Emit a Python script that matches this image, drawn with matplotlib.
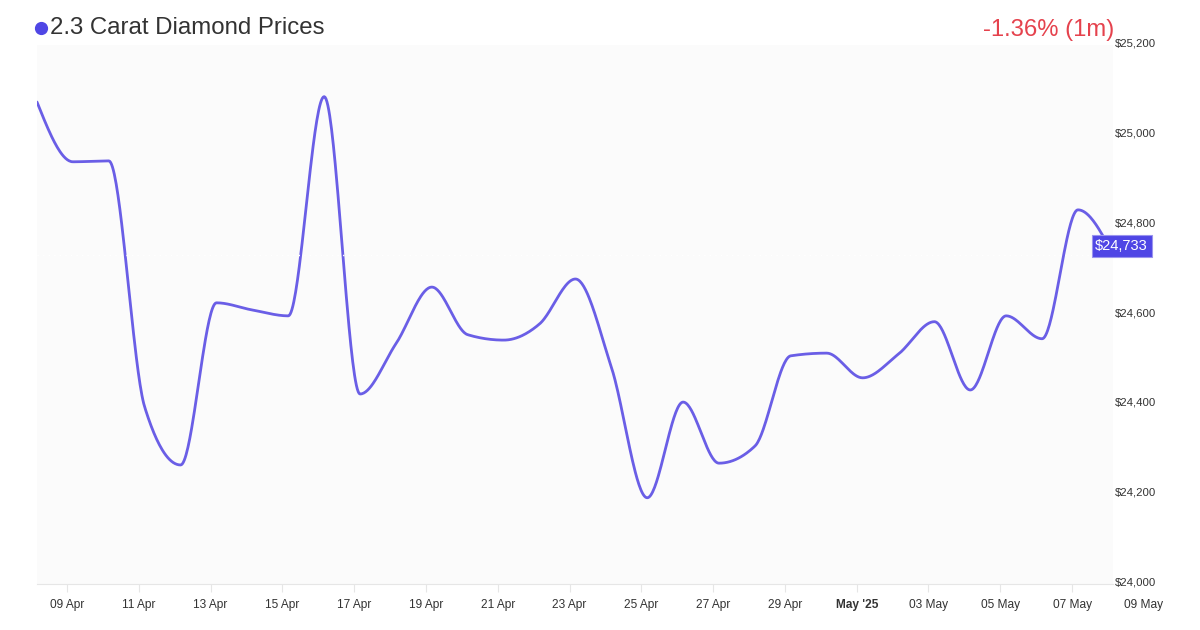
import numpy as np
import matplotlib
matplotlib.use("Agg")
import matplotlib.pyplot as plt
from matplotlib.lines import Line2D
from matplotlib.transforms import blended_transform_factory

plt.rcParams["font.family"] = ["Liberation Sans", "DejaVu Sans"]

# days relative to 09 Apr (daily samples, last one is the live quote)
days = [-0.836 + i for i in range(30)] + [29.14]
prices = [25073, 24940, 24942, 24394, 24265, 24626, 24610, 24597, 25085, 24423,
          24535, 24661, 24555, 24543, 24579, 24679, 24483, 24192, 24405, 24269,
          24307, 24508, 24514, 24459, 24512, 24584, 24432, 24597, 24546, 24833,
          24733]
tick_days = list(range(0, 30, 2))
tick_labels = ["09 Apr", "11 Apr", "13 Apr", "15 Apr", "17 Apr", "19 Apr", "21 Apr",
               "23 Apr", "25 Apr", "27 Apr", "29 Apr", "May '25", "03 May",
               "05 May", "07 May"]
y_ticks = [24000, 24200, 24400, 24600, 24800, 25000, 25200]
last_price = 24733
change = "-1.36% (1m)"

LINE = "#6a5ee6"
ACCENT = "#4f46e5"
TEXT = "#333333"


def monotone(x, y, n=40):
    # monotone cubic (like d3 curveMonotoneX) just for drawing the line
    x = np.asarray(x, float)
    y = np.asarray(y, float)
    h = np.diff(x)
    s = np.diff(y) / h
    t = np.zeros_like(y)
    for i in range(1, len(y) - 1):
        p = (s[i - 1] * h[i] + s[i] * h[i - 1]) / (h[i - 1] + h[i])
        t[i] = (np.sign(s[i - 1]) + np.sign(s[i])) * min(abs(s[i - 1]), abs(s[i]), 0.5 * abs(p))
    t[0] = (3 * s[0] - t[1]) / 2
    t[-1] = (3 * s[-1] - t[-2]) / 2
    xs, ys = [], []
    for i in range(len(h)):
        u = np.linspace(0, 1, n)
        h00 = 2 * u**3 - 3 * u**2 + 1
        h10 = u**3 - 2 * u**2 + u
        h01 = -2 * u**3 + 3 * u**2
        h11 = u**3 - u**2
        xs.append(x[i] + u * h[i])
        ys.append(h00 * y[i] + h10 * h[i] * t[i] + h01 * y[i + 1] + h11 * h[i] * t[i + 1])
    return np.concatenate(xs), np.concatenate(ys)


fig = plt.figure(figsize=(12, 6.3), dpi=100)
ax = fig.add_axes([37 / 1200, 46 / 630, 1076 / 1200, 539 / 630])
ax.set_facecolor("#fbfbfb")

sx, sy = monotone(days, prices)
ax.plot(sx, sy, color=LINE, lw=2, solid_capstyle="round", zorder=3)
ax.axhline(last_price, color="white", lw=1, ls=(0, (1, 3)), zorder=4)

ax.set_xlim(days[0], days[-1])
ax.set_ylim(24000, 25200)

for sp in ["top", "left", "right"]:
    ax.spines[sp].set_visible(False)
ax.spines["bottom"].set_color("#e6e6e6")

ax.set_xticks(tick_days)
ax.set_xticklabels(tick_labels, fontsize=8.6, color=TEXT)
for lab in ax.get_xticklabels():
    if lab.get_text() == "May '25":
        lab.set_fontweight("bold")
ax.tick_params(axis="x", length=6, color="#e6e6e6", pad=5)
# the last date label sits past the plot edge
tr = blended_transform_factory(ax.transData, ax.transAxes)
ax.text(30, -0.0284, "09 May", transform=tr, fontsize=8.6, color=TEXT,
        ha="center", va="top", clip_on=False)

ax.set_yticks([])
ytr = blended_transform_factory(ax.transAxes, ax.transData)
for v in y_ticks:
    ax.text(1.002, v + 3, f"${v:,}", transform=ytr, fontsize=8.2, color=TEXT,
            ha="left", va="center", clip_on=False)

ax.text(0.9835, 24756, f"${last_price:,}", transform=ytr, fontsize=10.5,
        color="white", ha="left", va="center_baseline", zorder=6, clip_on=False,
        bbox=dict(boxstyle="square,pad=0.25", fc=ACCENT, ec="#9a94ee", lw=0.8))

fig.text(50 / 1200, 1 - 27.5 / 630, "2.3 Carat Diamond Prices", fontsize=17.3,
         color=TEXT, ha="left", va="center")
fig.add_artist(Line2D([41 / 1200], [1 - 28 / 630], marker="o", markersize=8.5,
                      color=ACCENT, transform=fig.transFigure))
fig.text(1114 / 1200, 1 - 30 / 630, change, fontsize=17.2, color="#e5424d",
         ha="right", va="center")

fig.savefig("out.png", dpi=100, facecolor="white")
